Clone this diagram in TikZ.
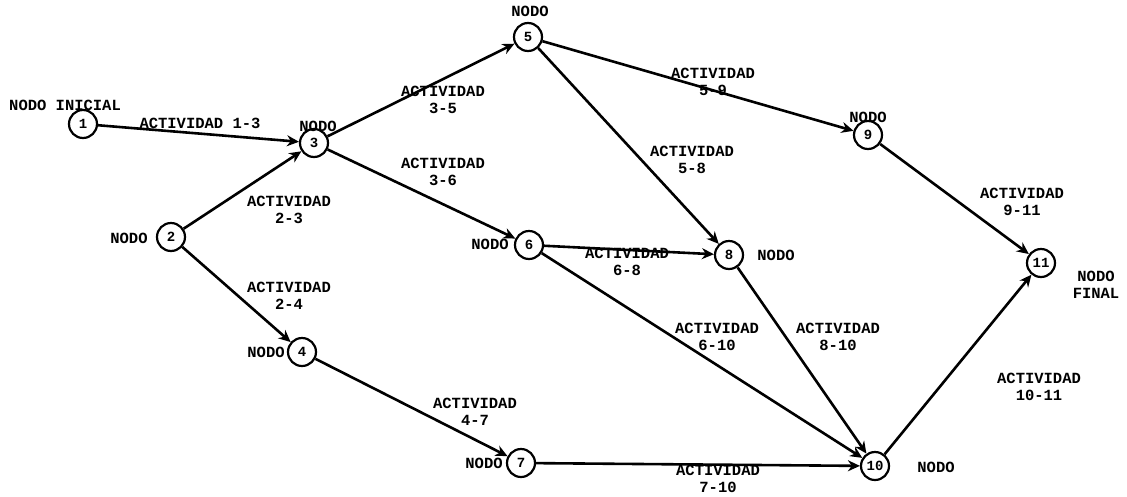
\documentclass[tikz,border=0pt]{standalone}
\usepackage{fontspec}
\newfontfamily\netfont{Liberation Mono}
\usetikzlibrary{arrows.meta}
\tikzset{
  ev/.style={circle, draw, line width=2.2pt, minimum size=28pt, inner sep=0pt,
    font=\netfont\bfseries\fontsize{14}{14}\selectfont},
  act/.style={line width=2.6pt, -{Stealth[length=12pt,width=11pt]}},
  lbl/.style={font=\netfont\bfseries\fontsize{15.5}{16.5}\selectfont, align=center, inner sep=0pt}
}
\begin{document}
\begin{tikzpicture}[x=1pt,y=-1pt]
\useasboundingbox (0,0) rectangle (1127,496);
% events
\node[ev] (n1) at (83,124) {1};
\node[ev] (n2) at (171,237) {2};
\node[ev] (n3) at (314,143) {3};
\node[ev] (n4) at (302,352) {4};
\node[ev] (n5) at (528,37) {5};
\node[ev] (n6) at (529,245) {6};
\node[ev] (n7) at (521,463) {7};
\node[ev] (n8) at (729,255) {8};
\node[ev] (n9) at (868,135) {9};
\node[ev] (n10) at (875,466) {10};
\node[ev] (n11) at (1041,263) {11};
% activities
\draw[act] (n1) -- (n3);
\draw[act] (n2) -- (n3);
\draw[act] (n2) -- (n4);
\draw[act] (n3) -- (n5);
\draw[act] (n3) -- (n6);
\draw[act] (n4) -- (n7);
\draw[act] (n5) -- (n9);
\draw[act] (n5) -- (n8);
\draw[act] (n6) -- (n8);
\draw[act] (n6) -- (n10);
\draw[act] (n7) -- (n10);
\draw[act] (n8) -- (n10);
\draw[act] (n9) -- (n11);
\draw[act] (n10) -- (n11);
% node captions
\node[lbl, anchor=west] (t1) at (9,105) {NODO INICIAL};
\node[lbl] (t2) at (129,238) {NODO};
\node[lbl] (t3) at (318,126) {NODO};
\node[lbl] (t4) at (266,352) {NODO};
\node[lbl] (t5) at (530,11) {NODO};
\node[lbl] (t6) at (490,244) {NODO};
\node[lbl] (t7) at (484,463) {NODO};
\node[lbl] (t8) at (776,255) {NODO};
\node[lbl] (t9) at (868,117) {NODO};
\node[lbl] (t10) at (936,467) {NODO};
\node[lbl] (t11) at (1096,285) {NODO\\FINAL};
% activity captions
\node[lbl] (a13) at (200,123) {ACTIVIDAD 1-3};
\node[lbl] (a23) at (289,210) {ACTIVIDAD\\2-3};
\node[lbl] (a24) at (289,296) {ACTIVIDAD\\2-4};
\node[lbl] (a35) at (443,100) {ACTIVIDAD\\3-5};
\node[lbl] (a36) at (443,172) {ACTIVIDAD\\3-6};
\node[lbl] (a47) at (475,412) {ACTIVIDAD\\4-7};
\node[lbl] (a59) at (713,82) {ACTIVIDAD\\5-9};
\node[lbl] (a58) at (692,160) {ACTIVIDAD\\5-8};
\node[lbl] (a68) at (627,262) {ACTIVIDAD\\6-8};
\node[lbl] (a610) at (717,337) {ACTIVIDAD\\6-10};
\node[lbl] (a810) at (838,337) {ACTIVIDAD\\8-10};
\node[lbl] (a710) at (718,479) {ACTIVIDAD\\7-10};
\node[lbl] (a911) at (1022,202) {ACTIVIDAD\\9-11};
\node[lbl] (a1011) at (1039,387) {ACTIVIDAD\\10-11};
\end{tikzpicture}
\end{document}
